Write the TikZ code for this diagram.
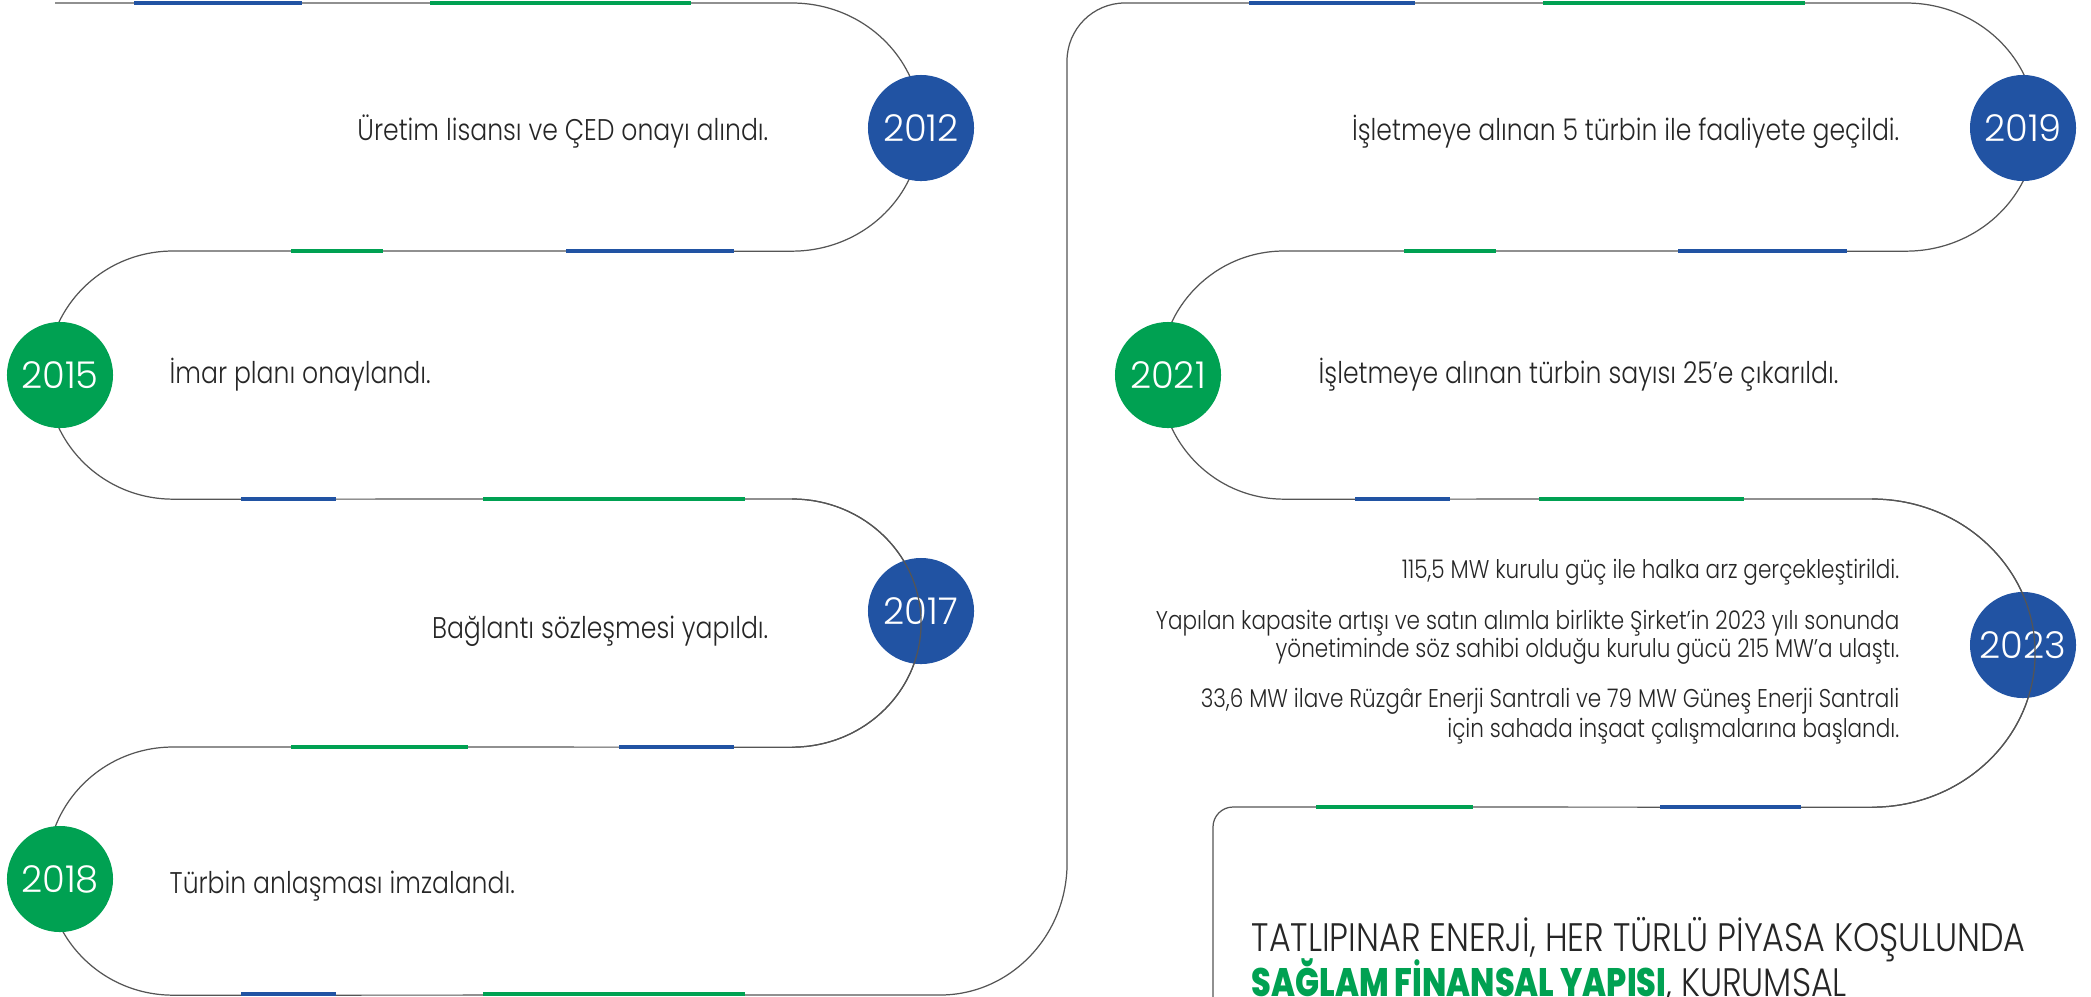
\documentclass[tikz,border=0pt]{standalone}
\usepackage{fontspec}
\usepackage{xcolor}
\usepackage{tikz}
\usetikzlibrary{positioning}
\IfFontExistsTF{Poppins Light}
  {\newfontfamily\thinfont{Poppins Light}[FakeStretch=0.84]
   \newfontfamily\yearfont{Poppins Light}}
  {\newfontfamily\thinfont{Poppins}[FakeStretch=0.84]
   \newfontfamily\yearfont{Poppins}}
\IfFontExistsTF{Poppins ExtraBold}
  {\newfontfamily\heavyfont{Poppins ExtraBold}[FakeStretch=0.8]}
  {\newfontfamily\heavyfont{Poppins}[FakeStretch=0.8, FakeBold=2]}
\definecolor{tpblue}{RGB}{33,83,163}
\definecolor{tpgreen}{RGB}{0,161,82}
\definecolor{roadgray}{RGB}{85,85,85}
\tikzset{
    road/.style={draw=roadgray, line width=0.35pt},
    bluebar/.style={draw=tpblue, line width=1.1pt},
    greenbar/.style={draw=tpgreen, line width=1.1pt},
    yearblue/.style={circle, fill=tpblue, minimum size=1.06cm, inner sep=0pt, text=white, font=\yearfont\fontsize{10.5}{12}\selectfont},
    yeargreen/.style={yearblue, fill=tpgreen},
    event/.style={inner sep=0pt, text=black!85, font=\thinfont\fontsize{8.5}{10}\selectfont},
    note/.style={event, font=\thinfont\fontsize{7.3}{9}\selectfont},
    motto/.style={event, font=\thinfont\fontsize{11.3}{13}\selectfont}
}
\begin{document}
\begin{tikzpicture}[x=0.01cm, y=-0.01cm]
    \useasboundingbox (0,0) rectangle (2091,996);
    \clip (0,0) rectangle (2091,996);
    % the road
    \draw[road] (55,3) -- (792,3)
        arc[start angle=90, end angle=-90, x radius=1.29cm, y radius=1.24cm] -- (173,251)
        arc[start angle=90, end angle=270, x radius=1.26cm, y radius=1.24cm] -- (792,499)
        arc[start angle=90, end angle=-90, x radius=1.29cm, y radius=1.24cm] -- (173,747)
        arc[start angle=90, end angle=270, x radius=1.26cm, y radius=1.24cm] -- (940,995)
        arc[start angle=-90, end angle=0, x radius=1.27cm, y radius=1.32cm] -- (1067,61)
        arc[start angle=180, end angle=90, radius=0.58cm] -- (1906,3)
        arc[start angle=90, end angle=-90, x radius=1.3cm, y radius=1.24cm] -- (1284,251)
        arc[start angle=90, end angle=270, x radius=1.24cm, y radius=1.24cm] -- (1872,499)
        arc[start angle=90, end angle=-90, x radius=1.63cm, y radius=1.54cm] -- (1233,807)
        arc[start angle=90, end angle=180, radius=0.2cm] -- (1213,1000);
    \foreach \a/\b/\y in {134/302/3, 566/734/251, 241/336/499, 619/734/747, 241/336/994,
                          1249/1415/3, 1678/1847/251, 1355/1450/499, 1660/1801/807}
        \draw[bluebar] (\a,\y) -- (\b,\y);
    \foreach \a/\b/\y in {430/691/3, 291/383/251, 483/745/499, 291/468/747, 483/745/994,
                          1543/1805/3, 1404/1496/251, 1539/1744/499, 1316/1473/807}
        \draw[greenbar] (\a,\y) -- (\b,\y);
    % years
    \node[yearblue] (y2012) at (921,128) {2012};
    \node[yeargreen] (y2015) at (60,375) {2015};
    \node[yearblue] (y2017) at (921,611) {2017};
    \node[yeargreen] (y2018) at (60,879) {2018};
    \node[yearblue] (y2019) at (2023,128) {2019};
    \node[yeargreen] (y2021) at (1168,375) {2021};
    \node[yearblue] (y2023) at (2023,645) {2023};
    \draw[road] (792,499) arc[start angle=90, end angle=-90, x radius=1.29cm, y radius=1.24cm];
    \draw[road] (1872,499) arc[start angle=90, end angle=-90, x radius=1.63cm, y radius=1.54cm];
    % events
    \node[event, anchor=base east] (e2012) at (769,140) {Üretim lisansı ve ÇED onayı alındı.};
    \node[event, anchor=base west] (e2015) at (169,383) {İmar planı onaylandı.};
    \node[event, anchor=base east] (e2017) at (769,638) {Bağlantı sözleşmesi yapıldı.};
    \node[event, anchor=base west] (e2018) at (169,893) {Türbin anlaşması imzalandı.};
    \node[event, anchor=base east] (e2019) at (1900,140) {İşletmeye alınan 5 türbin ile faaliyete geçildi.};
    \node[event, anchor=base west] (e2021) at (1318,383) {İşletmeye alınan türbin sayısı 25’e çıkarıldı.};
    \node[note, anchor=base east] (e2023a) at (1900,578) {115,5 MW kurulu güç ile halka arz gerçekleştirildi.};
    \node[note, anchor=base east] (e2023b) at (1900,629) {Yapılan kapasite artışı ve satın alımla birlikte Şirket’in 2023 yılı sonunda};
    \node[note, anchor=base east] (e2023c) at (1900,657) {yönetiminde söz sahibi olduğu kurulu gücü 215 MW’a ulaştı.};
    \node[note, anchor=base east] (e2023d) at (1900,707) {33,6 MW ilave Rüzgâr Enerji Santrali ve 79 MW Güneş Enerji Santrali};
    \node[note, anchor=base east] (e2023e) at (1900,737) {için sahada inşaat çalışmalarına başlandı.};
    % motto
    \node[motto, anchor=base west] (motto1) at (1251,951) {TATLIPINAR ENERJİ, HER TÜRLÜ PİYASA KOŞULUNDA};
    \node[motto, anchor=base west] (motto2) at (1251,996) {{\heavyfont\color{tpgreen}SAĞLAM FİNANSAL YAPISI}, KURUMSAL};
\end{tikzpicture}
\end{document}
